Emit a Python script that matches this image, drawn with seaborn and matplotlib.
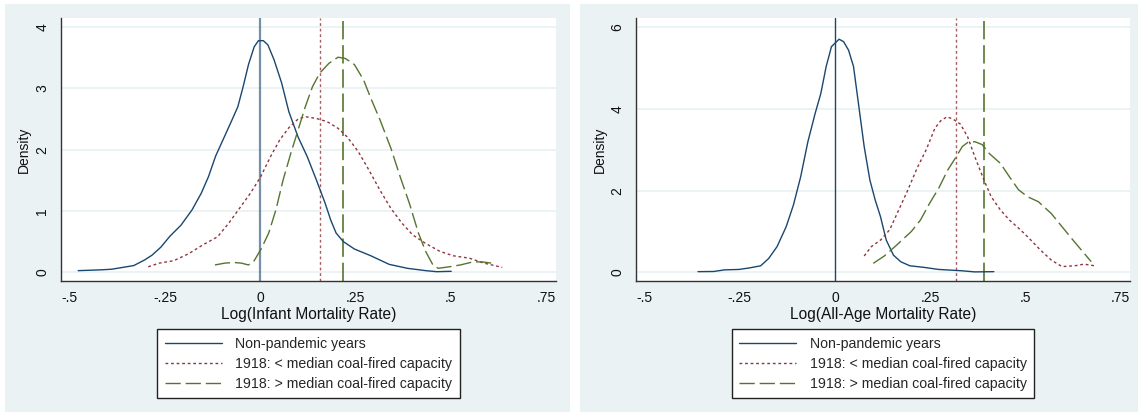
import numpy as np
import pandas as pd
import matplotlib
matplotlib.use("Agg")
import matplotlib.pyplot as plt
from matplotlib.patches import Rectangle
import seaborn as sns

# ---------------- data ----------------
groups = ["Non-pandemic years",
          "1918: < median coal-fired capacity",
          "1918: > median coal-fired capacity"]

# Left panel: Log(Infant Mortality Rate)
inf_non_x = [-0.478, -0.419, -0.390, -0.361, -0.332, -0.304, -0.284, -0.261, -0.237, -0.208,
             -0.179, -0.155, -0.136, -0.117, -0.098, -0.074, -0.059, -0.045, -0.031, -0.016,
             -0.005, 0.008, 0.020, 0.036, 0.056, 0.075, 0.099, 0.123, 0.147, 0.170,
             0.185, 0.199, 0.218, 0.247, 0.290, 0.338, 0.386, 0.434, 0.463, 0.501]
inf_non_y = [0.027, 0.040, 0.050, 0.080, 0.110, 0.200, 0.280, 0.410, 0.590, 0.770,
             1.020, 1.290, 1.560, 1.900, 2.160, 2.490, 2.700, 3.030, 3.390, 3.680,
             3.780, 3.780, 3.710, 3.470, 3.090, 2.620, 2.210, 1.890, 1.510, 1.130,
             0.850, 0.640, 0.500, 0.380, 0.270, 0.130, 0.065, 0.027, 0.010, 0.016]

inf_low_x = [-0.294, -0.265, -0.227, -0.189, -0.150, -0.112, -0.083, -0.055, -0.026, 0.001,
             0.027, 0.051, 0.075, 0.099, 0.118, 0.147, 0.175, 0.204, 0.228, 0.257,
             0.285, 0.314, 0.343, 0.372, 0.400, 0.434, 0.472, 0.506, 0.549, 0.587, 0.635]
inf_low_y = [0.09, 0.15, 0.19, 0.30, 0.45, 0.58, 0.80, 1.04, 1.29, 1.56,
             1.89, 2.16, 2.36, 2.50, 2.54, 2.51, 2.46, 2.35, 2.21, 1.97,
             1.67, 1.34, 1.04, 0.80, 0.61, 0.47, 0.34, 0.27, 0.23, 0.15, 0.08]

inf_high_x = [-0.119, -0.093, -0.069, -0.050, -0.031, -0.016, 0.003, 0.022, 0.041, 0.060,
              0.080, 0.099, 0.118, 0.137, 0.156, 0.180, 0.204, 0.223, 0.247, 0.271,
              0.290, 0.314, 0.343, 0.367, 0.391, 0.415, 0.434, 0.453, 0.467, 0.496,
              0.525, 0.558, 0.582, 0.606]
inf_high_y = [0.12, 0.15, 0.16, 0.15, 0.12, 0.19, 0.39, 0.64, 1.02, 1.51,
              1.94, 2.32, 2.70, 3.03, 3.25, 3.41, 3.51, 3.49, 3.39, 3.14,
              2.84, 2.49, 2.02, 1.56, 1.13, 0.64, 0.34, 0.12, 0.065, 0.09,
              0.12, 0.17, 0.17, 0.15]

inf_vlines = [0.0, 0.156, 0.2165]

# Right panel: Log(All-Age Mortality Rate)
all_non_x = [-0.360, -0.319, -0.290, -0.252, -0.223, -0.195, -0.174, -0.152, -0.128, -0.109,
             -0.090, -0.071, -0.052, -0.037, -0.023, -0.009, 0.011, 0.023, 0.036, 0.049,
             0.063, 0.077, 0.092, 0.106, 0.120, 0.135, 0.154, 0.173, 0.197, 0.235,
             0.273, 0.330, 0.368, 0.418]
all_non_y = [0.016, 0.02, 0.06, 0.07, 0.11, 0.16, 0.34, 0.63, 1.12, 1.65,
             2.34, 3.20, 3.89, 4.38, 5.04, 5.53, 5.71, 5.65, 5.44, 5.04,
             4.06, 3.08, 2.26, 1.77, 1.36, 0.79, 0.42, 0.26, 0.16, 0.12,
             0.07, 0.04, 0.01, 0.016]

all_low_x = [0.077, 0.096, 0.120, 0.144, 0.168, 0.192, 0.216, 0.240, 0.263, 0.278,
             0.295, 0.311, 0.330, 0.349, 0.368, 0.392, 0.411, 0.435, 0.459, 0.488,
             0.511, 0.540, 0.569, 0.597, 0.631, 0.655, 0.683]
all_low_y = [0.40, 0.63, 0.79, 1.04, 1.53, 2.02, 2.55, 3.00, 3.53, 3.71,
             3.81, 3.75, 3.63, 3.32, 2.83, 2.26, 1.85, 1.53, 1.28, 1.04,
             0.83, 0.55, 0.30, 0.14, 0.16, 0.20, 0.16]

all_high_x = [0.101, 0.130, 0.158, 0.201, 0.225, 0.249, 0.273, 0.297, 0.319, 0.335,
              0.349, 0.368, 0.387, 0.406, 0.435, 0.459, 0.483, 0.507, 0.535, 0.569,
              0.597, 0.626, 0.655, 0.674]
all_high_y = [0.22, 0.40, 0.63, 1.00, 1.28, 1.69, 2.06, 2.51, 2.83, 3.08,
              3.18, 3.20, 3.13, 2.91, 2.67, 2.34, 2.02, 1.85, 1.73, 1.44,
              1.12, 0.79, 0.47, 0.26]

all_vlines = [0.0, 0.318, 0.392]

xticks = [-0.5, -0.25, 0, 0.25, 0.5, 0.75]
xticklabels = ["-.5", "-.25", "0", ".25", ".5", ".75"]
inf_yticks = [0, 1, 2, 3, 4]
all_yticks = [0, 2, 4, 6]
xlabels = ["Log(Infant Mortality Rate)", "Log(All-Age Mortality Rate)"]

# ---------------- style ----------------
NAVY = "#1A476F"
MAROON = "#90353B"
GREEN = "#55752F"
BG = "#EAF2F3"
palette = dict(zip(groups, [NAVY, MAROON, GREEN]))
dashes = dict(zip(groups, ["", (2, 2), (11, 3.5)]))

sns.set_theme(style="white")
plt.rcParams['font.family'] = ['Liberation Sans', 'DejaVu Sans']

W, H = 1138, 412
fig = plt.figure(figsize=(W / 100, H / 100), dpi=100, facecolor="white")

# panel backgrounds
for (x0, x1) in [(5, 570), (580, 1138)]:
    fig.patches.append(Rectangle((x0 / W, 0), (x1 - x0) / W, (412 - 4) / H,
                                 transform=fig.transFigure, facecolor=BG,
                                 edgecolor="none", zorder=-10))


def make_df(xs, ys):
    frames = []
    for g, x, y in zip(groups, xs, ys):
        frames.append(pd.DataFrame({"x": x, "y": y, "group": g}))
    return pd.concat(frames, ignore_index=True)


panels = [
    dict(left=61, right=556, lab_right=31,
         df=make_df([inf_non_x, inf_low_x, inf_high_x], [inf_non_y, inf_low_y, inf_high_y]),
         vlines=inf_vlines, yticks=inf_yticks, ylim=(-0.142, 4.15), xlabel=xlabels[0]),
    dict(left=636, right=1130, lab_right=607,
         df=make_df([all_non_x, all_low_x, all_high_x], [all_non_y, all_low_y, all_high_y]),
         vlines=all_vlines, yticks=all_yticks, ylim=(-0.213, 6.23), xlabel=xlabels[1]),
]

top_px, bot_px = 18, 281
for i, p in enumerate(panels):
    ax = fig.add_axes([p["left"] / W, (H - bot_px) / H,
                       (p["right"] - p["left"]) / W, (bot_px - top_px) / H])
    ax.set_facecolor("white")
    ax.set_xlim(-0.523, 0.776)
    ax.set_ylim(*p["ylim"])
    ax.set_yticks(p["yticks"])
    ax.set_xticks(xticks)
    ax.set_xticklabels(xticklabels)
    ax.set_yticklabels([str(t) for t in p["yticks"]], rotation=90, va="center")
    for yt in p["yticks"]:
        ax.axhline(yt, color=BG, lw=1.3, zorder=0)

    sns.lineplot(data=p["df"], x="x", y="y", hue="group", style="group",
                 palette=palette, dashes=dashes, sort=False, estimator=None,
                 linewidth=1.0, ax=ax, legend=False)
    curve_handles = list(ax.get_lines())[-3:]

    vl_alpha = [0.6 if i == 0 else 1.0, 0.8, 1.0]
    vl_lw = [1.6 if i == 0 else 1.0, 1.0, 1.2]
    for v, g, a, lw in zip(p["vlines"], groups, vl_alpha, vl_lw):
        ln = ax.axvline(v, color=palette[g], lw=lw, alpha=a, zorder=1)
        if dashes[g]:
            ln.set_dashes(dashes[g])

    for s in ["top", "right"]:
        ax.spines[s].set_visible(False)
    for s in ["left", "bottom"]:
        ax.spines[s].set_color("#333333")
        ax.spines[s].set_linewidth(1.0)
    ax.tick_params(axis="both", which="major", length=4.3, width=0.9,
                   color="#333333", labelsize=10, labelcolor="#111111")
    ax.tick_params(axis="x", pad=3)
    ax.tick_params(axis="y", pad=4)
    ax.set_xlabel(p["xlabel"], fontsize=11.2, color="#111111", labelpad=1)
    ax.set_ylabel("Density", fontsize=10, color="#111111")
    ax.yaxis.set_label_coords(-(p["left"] - p["lab_right"]) / (p["right"] - p["left"]), 0.5)

    leg = ax.legend(curve_handles, groups, loc="upper center",
                    bbox_to_anchor=(0.5, -0.1825), borderaxespad=0,
                    fontsize=10.2, frameon=True, fancybox=False,
                    handlelength=4.0, handletextpad=0.95, labelspacing=0.42,
                    borderpad=0.55)
    fr = leg.get_frame()
    fr.set_edgecolor("#222222")
    fr.set_linewidth(1.0)
    fr.set_facecolor("white")
    fr.set_alpha(1)

fig.savefig("out.png", dpi=100, facecolor="white")
